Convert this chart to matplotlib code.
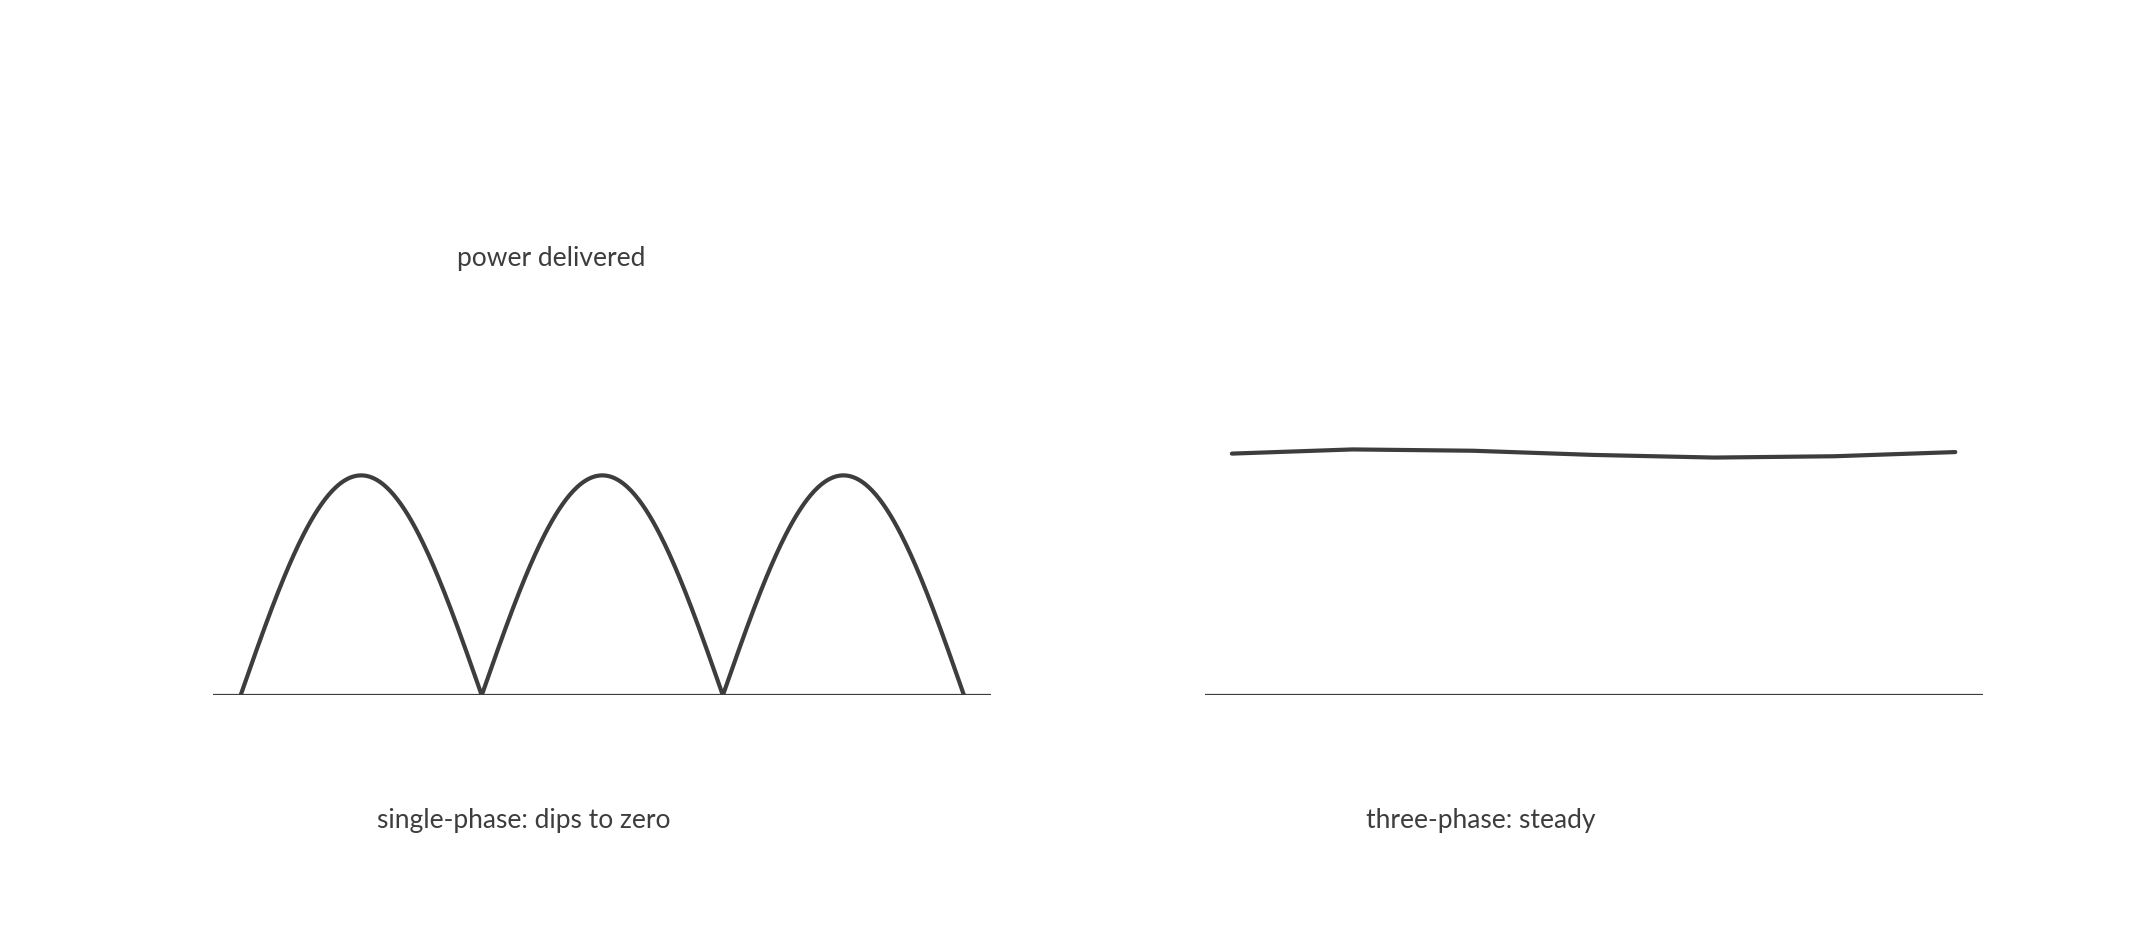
import numpy as np
import matplotlib.pyplot as plt

INK = "#3d3d3d"

# single-phase: rectified sine, three half-cycles
phase_x = np.linspace(0, 3, 601)
single_power = np.abs(np.sin(np.pi * phase_x))

# three-phase: near-constant power (slight wobble)
three_x = [0, 0.5, 1.0, 1.5, 2.0, 2.5, 3.0]
three_power = [1.099, 1.118, 1.112, 1.093, 1.081, 1.087, 1.106]

labels = ["single-phase: dips to zero", "three-phase: steady"]
title = "power delivered"

W, H = 1560.0, 683.0
fig = plt.figure(figsize=(21.33, 9.33), dpi=100)


def make_axes(x0_px):
    ax = fig.add_axes([x0_px / W, 1 - 509 / H, 569 / W, 200 / H])
    ax.set_xlim(-20 / 176.67, 3 + 20 / 176.67)
    ax.set_ylim(0, 200 / 161)
    ax.axis("off")
    ax.axhline(0, color=INK, lw=1.6, zorder=1)
    return ax


ax1 = make_axes(156)
ax1.plot(phase_x, single_power, color=INK, lw=3.0, solid_capstyle="round")

ax2 = make_axes(881)
ax2.plot(three_x, three_power, color=INK, lw=3.0, solid_capstyle="round")

font = dict(color=INK, fontsize=19, family=["Lato", "DejaVu Sans"], ha="center", va="center")
fig.text(403 / W, 1 - 189 / H, title, **font)
fig.text(383 / W, 1 - 601 / H, labels[0], **font)
fig.text(1083 / W, 1 - 601 / H, labels[1], **font)

fig.savefig("out.png", dpi=100, facecolor="white")
